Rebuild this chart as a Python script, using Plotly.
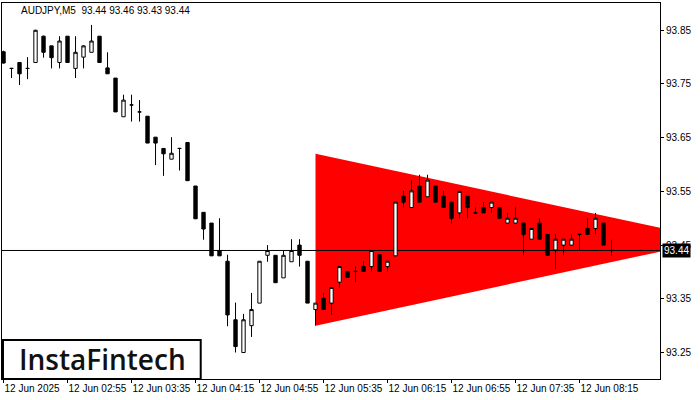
import plotly.graph_objects as go

symbol_title = "AUDJPY,M5&nbsp;&nbsp;93.44 93.46 93.43 93.44"
watermark = "InstaFintech"

opens = [93.810, 93.779, 93.790, 93.779, 93.790, 93.839, 93.821, 93.790, 93.839, 93.779,
         93.800, 93.809, 93.839, 93.780, 93.761, 93.689, 93.711, 93.698, 93.690, 93.651,
         93.630, 93.610, 93.630, 93.641, 93.560, 93.511, 93.491, 93.440, 93.420, 93.311,
         93.250, 93.300, 93.342, 93.431, 93.431, 93.389, 93.419, 93.450, 93.420, 93.330,
         93.351, 93.342, 93.381, 93.401, 93.401, 93.410, 93.410, 93.432, 93.410, 93.430,
         93.541, 93.520, 93.560, 93.540, 93.560, 93.541, 93.530, 93.510, 93.541, 93.510,
         93.520, 93.520, 93.520, 93.491, 93.491, 93.491, 93.461, 93.491, 93.470, 93.441,
         93.450, 93.450, 93.470, 93.481, 93.481, 93.491, 93.440]
highs = [93.812, 93.780, 93.791, 93.800, 93.851, 93.840, 93.821, 93.839, 93.839, 93.839,
         93.822, 93.860, 93.839, 93.809, 93.761, 93.730, 93.730, 93.720, 93.690, 93.651,
         93.630, 93.651, 93.631, 93.641, 93.560, 93.511, 93.491, 93.500, 93.432, 93.343,
         93.322, 93.361, 93.420, 93.450, 93.431, 93.440, 93.461, 93.461, 93.420, 93.342,
         93.361, 93.372, 93.410, 93.401, 93.410, 93.420, 93.440, 93.432, 93.420, 93.530,
         93.551, 93.571, 93.581, 93.581, 93.560, 93.551, 93.530, 93.551, 93.541, 93.520,
         93.530, 93.530, 93.520, 93.510, 93.520, 93.491, 93.481, 93.500, 93.470, 93.470,
         93.461, 93.470, 93.470, 93.500, 93.510, 93.491, 93.460]
lows = [93.788, 93.761, 93.748, 93.759, 93.789, 93.799, 93.779, 93.779, 93.790, 93.761,
        93.779, 93.809, 93.790, 93.769, 93.698, 93.689, 93.680, 93.680, 93.640, 93.599,
        93.579, 93.610, 93.589, 93.570, 93.499, 93.460, 93.430, 93.430, 93.299, 93.250,
        93.249, 93.279, 93.342, 93.419, 93.380, 93.389, 93.419, 93.410, 93.342, 93.300,
        93.330, 93.320, 93.371, 93.390, 93.381, 93.401, 93.401, 93.401, 93.401, 93.430,
        93.520, 93.520, 93.530, 93.540, 93.530, 93.520, 93.490, 93.500, 93.500, 93.510,
        93.510, 93.510, 93.500, 93.491, 93.491, 93.431, 93.461, 93.461, 93.431, 93.405,
        93.431, 93.450, 93.441, 93.470, 93.470, 93.450, 93.430]
closes = [93.789, 93.779, 93.769, 93.779, 93.850, 93.809, 93.799, 93.830, 93.790, 93.809,
          93.821, 93.830, 93.790, 93.769, 93.698, 93.720, 93.711, 93.698, 93.640, 93.640,
          93.620, 93.621, 93.630, 93.570, 93.499, 93.480, 93.430, 93.430, 93.320, 93.261,
          93.311, 93.330, 93.420, 93.440, 93.380, 93.431, 93.440, 93.431, 93.342, 93.342,
          93.330, 93.371, 93.410, 93.390, 93.401, 93.401, 93.440, 93.401, 93.420, 93.530,
          93.530, 93.551, 93.530, 93.571, 93.530, 93.520, 93.500, 93.550, 93.520, 93.510,
          93.510, 93.530, 93.500, 93.500, 93.500, 93.470, 93.481, 93.461, 93.431, 93.461,
          93.461, 93.461, 93.470, 93.470, 93.500, 93.450, 93.440]

x_tick_labels = ["12 Jun 2025", "12 Jun 02:55", "12 Jun 03:35", "12 Jun 04:15", "12 Jun 04:55",
                 "12 Jun 05:35", "12 Jun 06:15", "12 Jun 06:55", "12 Jun 07:35", "12 Jun 08:15"]
bars_per_label = 8
y_tick_values = [93.25, 93.35, 93.45, 93.55, 93.65, 93.75, 93.85]

# triangle pattern (bar index, price)
pattern_start = 39
pattern_upper = 93.62
pattern_lower = 93.30
pattern_apex_bar = 89
pattern_apex = 93.46

n = len(closes)
xs = list(range(n))
tick_idx = [i * bars_per_label for i in range(len(x_tick_labels))]
last_close = closes[-1]
x_range = [-0.19, 82.06]
y_range = [93.2007, 93.9008]

fig = go.Figure()

fig.add_trace(go.Candlestick(
    x=xs, open=opens, high=highs, low=lows, close=closes,
    increasing=dict(fillcolor="white", line=dict(color="black", width=1)),
    decreasing=dict(fillcolor="black", line=dict(color="black", width=1)),
    whiskerwidth=0, hoverinfo="skip", showlegend=False))

# triangle (below the candles)
fig.add_shape(
    type="path", xref="x", yref="y", layer="below",
    path=(f"M {pattern_start},{pattern_upper} L {pattern_apex_bar},{pattern_apex} "
          f"L {pattern_start},{pattern_lower} Z"),
    fillcolor="#ff0000", line=dict(color="#ff0000", width=0))
# current price line (over the triangle, under the candles)
fig.add_shape(
    type="line", xref="x", yref="y", layer="below",
    x0=x_range[0], x1=x_range[1], y0=last_close, y1=last_close,
    line=dict(color="black", width=1))

tick_font = dict(family="Liberation Sans, Arial, sans-serif", size=10, color="black")

fig.update_layout(
    width=700, height=400,
    margin=dict(l=2, r=40, t=3, b=21),
    paper_bgcolor="white", plot_bgcolor="white",
    boxgap=0.4,
    showlegend=False,
    xaxis=dict(
        range=x_range, rangeslider=dict(visible=False),
        tickmode="array", tickvals=tick_idx, ticktext=x_tick_labels,
        ticks="outside", ticklen=3, tickcolor="black", tickangle=0,
        ticklabelposition="outside right", automargin=False,
        tickfont=tick_font, showgrid=False, zeroline=False,
        showline=True, linecolor="black", linewidth=1, mirror=True),
    yaxis=dict(
        range=y_range, side="right", automargin=False,
        tickmode="array", tickvals=y_tick_values,
        ticktext=[f"{v:.2f}" for v in y_tick_values],
        ticks="outside", ticklen=3, tickcolor="black",
        tickfont=tick_font, showgrid=False, zeroline=False,
        showline=True, linecolor="black", linewidth=1, mirror=True),
)

fig.add_annotation(
    xref="paper", yref="paper", x=0.026, y=0.979, xanchor="left", yanchor="middle",
    text=symbol_title, showarrow=False, font=tick_font)

fig.add_annotation(
    xref="paper", yref="y", x=1, y=last_close, xanchor="left", yanchor="middle",
    xshift=2, text=f"{last_close:.2f}", showarrow=False, bgcolor="black",
    borderpad=1, font=dict(family="Liberation Sans, Arial, sans-serif", size=10, color="white"))

# watermark box
fig.add_shape(type="rect", xref="paper", yref="paper",
              x0=0.0015, x1=0.302, y0=0.0, y1=0.104,
              fillcolor="white", line=dict(color="black", width=2), layer="above")
fig.add_annotation(
    xref="paper", yref="paper", x=0.152, y=0.053, xanchor="center", yanchor="middle",
    text=watermark, showarrow=False,
    font=dict(family="Open Sans, sans-serif", size=28, color="#111111", weight=600))

fig.write_html("out.html", config={"displayModeBar": False},
               post_script="document.body.style.margin='0';")
